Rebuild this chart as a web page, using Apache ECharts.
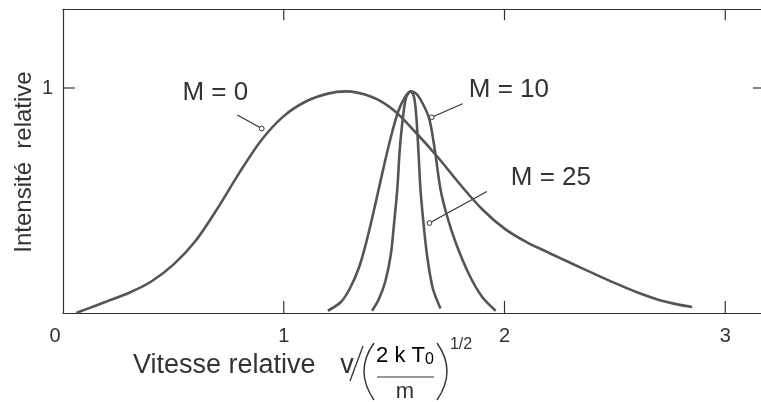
<!DOCTYPE html>
<html>
<head>
<meta charset="utf-8">
<script src="https://cdn.jsdelivr.net/npm/echarts@6/dist/echarts.min.js"></script>
<style>
  html, body { margin: 0; padding: 0; background: #fff; }
  #main { width: 761px; height: 402px; }
</style>
</head>
<body>
<div id="main"></div>
<script>
// values
var m0X = [0.06, 0.10, 0.20, 0.30, 0.40, 0.50, 0.60, 0.70, 0.80, 0.90, 1.00, 1.10, 1.20, 1.28, 1.40, 1.50, 1.60, 1.70, 1.80, 1.90, 2.00, 2.10, 2.20, 2.30, 2.40, 2.50, 2.60, 2.70, 2.80, 2.85];
var m0Y = [0, 0.015, 0.052, 0.09, 0.14, 0.215, 0.32, 0.465, 0.625, 0.77, 0.875, 0.94, 0.975, 0.985, 0.96, 0.90, 0.80, 0.69, 0.57, 0.46, 0.375, 0.315, 0.268, 0.222, 0.177, 0.133, 0.092, 0.058, 0.035, 0.027];

var m10X = [1.20, 1.26, 1.30, 1.34, 1.37, 1.40, 1.43, 1.46, 1.49, 1.52, 1.55, 1.575, 1.60, 1.63, 1.66, 1.685, 1.71, 1.74, 1.78, 1.84, 1.90, 1.96];
var m10Y = [0.01, 0.05, 0.11, 0.20, 0.30, 0.42, 0.55, 0.68, 0.80, 0.90, 0.96, 0.985, 0.975, 0.93, 0.86, 0.72, 0.55, 0.43, 0.31, 0.17, 0.07, 0.01];

var m25X = [1.40, 1.43, 1.46, 1.485, 1.50, 1.515, 1.525, 1.54, 1.555, 1.575, 1.59, 1.60, 1.61, 1.62, 1.635, 1.65, 1.675, 1.71];
var m25Y = [0.01, 0.06, 0.14, 0.26, 0.40, 0.56, 0.72, 0.87, 0.96, 0.985, 0.96, 0.88, 0.72, 0.54, 0.38, 0.25, 0.11, 0.02];

var xTicks = [0, 1, 2, 3];
var yTicks = [1];
var xMax = 3.18;
var yMax = 1.35;

// callouts: label centre, leader start, leader end (data coords)
var notes = [
  { text: 'M = 0',  at: [0.69, 0.98], from: [0.79, 0.88], to: [0.90, 0.82] },
  { text: 'M = 10', at: [2.02, 0.99], from: [1.81, 0.93], to: [1.67, 0.87] },
  { text: 'M = 25', at: [2.21, 0.60], from: [1.92, 0.54], to: [1.66, 0.40] }
];

function pairs(xs, ys) {
  return xs.map(function (x, i) { return [x, ys[i]]; });
}

var FONT = '"Liberation Sans", Arial, sans-serif';
var INK = '#333';
var CURVE = '#555';

var chartDom = document.getElementById('main');
var myChart = echarts.init(chartDom);

var lineStyle = { color: CURVE, width: 2.6 };

function frameAxis(extra) {
  var ax = {
    type: 'value',
    axisLine: { show: true, onZero: false, lineStyle: { color: INK, width: 1.2 } },
    axisTick: { show: false },
    axisLabel: { show: false },
    splitLine: { show: false }
  };
  for (var k in extra) ax[k] = extra[k];
  return ax;
}

var option = {
  animation: false,
  backgroundColor: '#fff',
  grid: { left: 63, right: -4, top: 9.25, bottom: 89, outerBoundsMode: 'none' },
  xAxis: [
    frameAxis({
      position: 'bottom', min: 0, max: xMax, interval: 1,
      axisLabel: {
        margin: 13, color: INK, fontSize: 20, fontFamily: FONT,
        formatter: function (v) {
          if (v === 0) return '{z|0}';
          return xTicks.indexOf(v) >= 0 ? String(v) : '';
        },
        rich: { z: { fontSize: 20, fontFamily: FONT, color: INK, padding: [0, 16, 0, 0] } }
      }
    }),
    frameAxis({ position: 'top', min: 0, max: xMax, interval: 1 })
  ],
  yAxis: [
    frameAxis({
      position: 'left', min: 0, max: yMax, interval: 1,
      axisLabel: {
        margin: 10, color: INK, fontSize: 20, fontFamily: FONT,
        formatter: function (v) { return yTicks.indexOf(v) >= 0 ? String(v) : ''; }
      }
    }),
    frameAxis({ position: 'right', min: 0, max: yMax, interval: 1, axisLine: { show: false } })
  ],
  series: [
    { name: 'M = 0', type: 'line', smooth: 0.3, showSymbol: false, lineStyle: lineStyle, data: pairs(m0X, m0Y) },
    { name: 'M = 10', type: 'line', smooth: 0.3, showSymbol: false, lineStyle: lineStyle, data: pairs(m10X, m10Y) },
    { name: 'M = 25', type: 'line', smooth: 0.3, showSymbol: false, lineStyle: lineStyle, data: pairs(m25X, m25Y) }
  ]
};

option && myChart.setOption(option);

function px(pt) { return myChart.convertToPixel({ seriesIndex: 0 }, pt); }
function seg(a, b, w) {
  return { type: 'line', shape: { x1: a[0], y1: a[1], x2: b[0], y2: b[1] }, style: { stroke: INK, lineWidth: w || 1.2 } };
}

var g = [];

// inward frame ticks
xTicks.forEach(function (t) {
  if (t === 0) return;
  var b = px([t, 0]);
  var top = px([t, yMax]);
  g.push(seg(b, [b[0], b[1] - 12]));
  g.push(seg(top, [top[0], top[1] + 11]));
});
yTicks.forEach(function (t) {
  var l = px([0, t]);
  var r = px([xMax, t]);
  g.push(seg(l, [l[0] + 12, l[1]]));
  g.push(seg(r, [r[0] - 12, r[1]]));
});

// callouts
notes.forEach(function (n) {
  var p = px(n.at);
  var a = px(n.from);
  var b = px(n.to);
  g.push({
    type: 'text', x: p[0], y: p[1],
    style: { text: n.text, font: '26px ' + FONT, fill: INK, textAlign: 'center', textVerticalAlign: 'middle' }
  });
  g.push(seg(a, b));
  g.push({
    type: 'circle', shape: { cx: b[0], cy: b[1], r: 2.4 },
    style: { fill: '#fff', stroke: INK, lineWidth: 1 }
  });
});

g.push({
  type: 'text', x: 24, y: 162, rotation: Math.PI / 2,
  style: { text: 'Intensité  relative', font: '24px ' + FONT, fill: INK, textAlign: 'center', textVerticalAlign: 'middle' }
});

// x-axis title: Vitesse relative v/(2kT0/m)^1/2
g.push({
  type: 'text', x: 133, y: 366,
  style: { text: 'Vitesse relative', font: '27px ' + FONT, fill: INK, textAlign: 'left', textVerticalAlign: 'middle' }
});
g.push({
  type: 'text', x: 347, y: 366,
  style: { text: 'v', font: '27px ' + FONT, fill: INK, textAlign: 'center', textVerticalAlign: 'middle' }
});
g.push(seg([350, 381], [363, 346], 1.3));
g.push({
  type: 'bezierCurve', shape: { x1: 374, y1: 343, cpx1: 354, cpy1: 371, x2: 374, y2: 400 },
  style: { stroke: INK, lineWidth: 1.4, fill: null }
});
g.push({
  type: 'text', x: 405, y: 356,
  style: {
    text: '{a|2 k T}{s|0}', textAlign: 'center', textVerticalAlign: 'middle',
    rich: {
      a: { fontSize: 22, fontFamily: FONT, color: INK },
      s: { fontSize: 16, fontFamily: FONT, color: INK, padding: [8, 0, 0, 0] }
    }
  }
});
g.push(seg([377, 377], [434, 377]));
g.push({
  type: 'text', x: 405, y: 392,
  style: { text: 'm', font: '22px ' + FONT, fill: INK, textAlign: 'center', textVerticalAlign: 'middle' }
});
g.push({
  type: 'bezierCurve', shape: { x1: 437, y1: 343, cpx1: 457, cpy1: 371, x2: 437, y2: 400 },
  style: { stroke: INK, lineWidth: 1.4, fill: null }
});
g.push({
  type: 'text', x: 461, y: 345,
  style: { text: '1/2', font: '16px ' + FONT, fill: INK, textAlign: 'center', textVerticalAlign: 'middle' }
});

myChart.setOption({ graphic: g });
</script>
</body>
</html>
